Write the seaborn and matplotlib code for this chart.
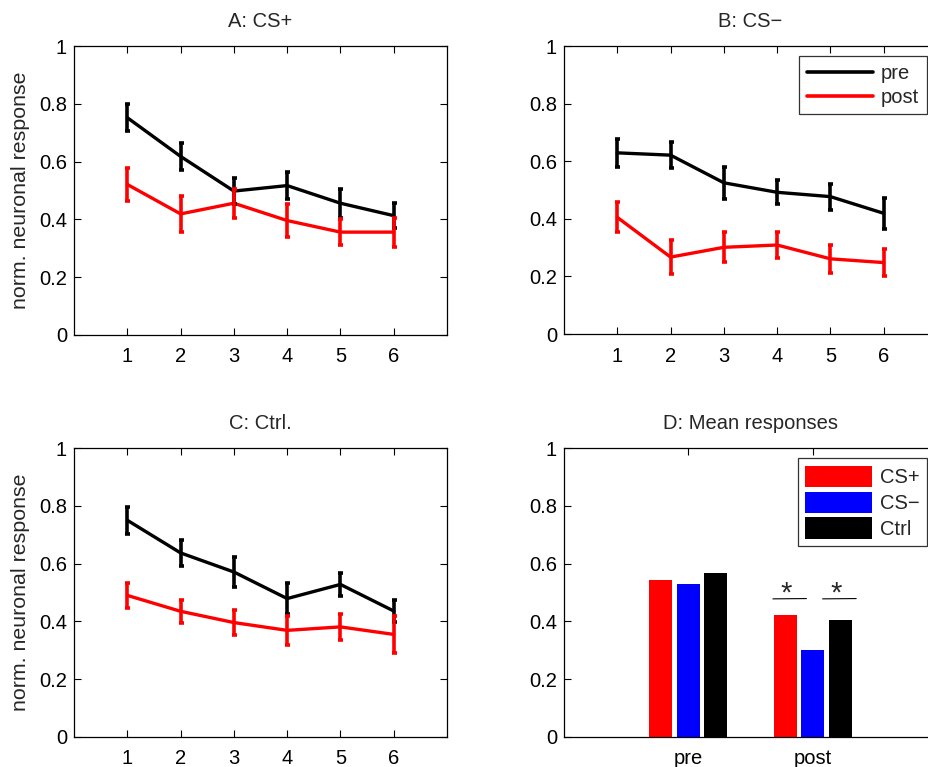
import numpy as np
import pandas as pd
import matplotlib
matplotlib.use("Agg")
import matplotlib.pyplot as plt
import seaborn as sns
from matplotlib.patches import Patch
from matplotlib.lines import Line2D

# ---------------- data ----------------
trials = [1, 2, 3, 4, 5, 6]

a_pre = [0.752, 0.618, 0.498, 0.517, 0.456, 0.413]
a_pre_err = [0.046, 0.046, 0.045, 0.046, 0.050, 0.043]
a_post = [0.521, 0.419, 0.456, 0.396, 0.356, 0.356]
a_post_err = [0.058, 0.063, 0.050, 0.058, 0.046, 0.050]

b_pre = [0.629, 0.621, 0.525, 0.492, 0.477, 0.419]
b_pre_err = [0.048, 0.044, 0.055, 0.042, 0.045, 0.053]
b_post = [0.405, 0.267, 0.301, 0.309, 0.261, 0.248]
b_post_err = [0.052, 0.058, 0.052, 0.046, 0.048, 0.047]

c_pre = [0.750, 0.637, 0.571, 0.479, 0.528, 0.436]
c_pre_err = [0.046, 0.046, 0.051, 0.053, 0.039, 0.039]
c_post = [0.490, 0.435, 0.396, 0.369, 0.381, 0.355]
c_post_err = [0.042, 0.039, 0.042, 0.049, 0.045, 0.063]

phases = ["pre", "post"]
stimuli = ["CS+", "CS\u2212", "Ctrl"]
mean_pre = [0.544, 0.531, 0.566]
mean_post = [0.421, 0.302, 0.405]

titles = ["A: CS+", "B: CS\u2212", "C: Ctrl.", "D: Mean responses"]
yticks = [0, 0.2, 0.4, 0.6, 0.8, 1]
ytick_labels = ["0", "0.2", "0.4", "0.6", "0.8", "1"]

# ---------------- style ----------------
sns.set_style("ticks")
plt.rcParams["font.family"] = ["Liberation Sans", "DejaVu Sans"]
plt.rcParams["axes.linewidth"] = 0.8
plt.rcParams["axes.edgecolor"] = "black"

W, H = 929, 767
fig = plt.figure(figsize=(W / 100, H / 100), dpi=100)


def box(left, top, right, bottom):
    return [left / W, 1 - bottom / H, (right - left) / W, (bottom - top) / H]


axA = fig.add_axes(box(74, 46, 447, 335))
axB = fig.add_axes(box(564, 46, 937, 334))
axC = fig.add_axes(box(74, 448, 447, 737))
axD = fig.add_axes(box(564, 448, 937, 737))

FS_TICK = 14.5
FS_TITLE = 14.5
FS_LABEL = 15.4


def style_axis(ax, title):
    ax.set_ylim(0, 1)
    ax.set_yticks(yticks)
    ax.set_yticklabels(ytick_labels)
    ax.tick_params(direction="in", top=True, right=True, length=5, width=0.8,
                   labelsize=FS_TICK, colors="black")
    ax.tick_params(axis="x", pad=9)
    ax.tick_params(axis="y", pad=5)
    for s in ax.spines.values():
        s.set_visible(True)
        s.set_color("black")
        s.set_linewidth(0.9)
    ax.set_title(title, fontsize=FS_TITLE, pad=14)
    ax.set_xlabel("")
    ax.set_ylabel("")


panels = [
    (axA, a_pre, a_pre_err, a_post, a_post_err, titles[0]),
    (axB, b_pre, b_pre_err, b_post, b_post_err, titles[1]),
    (axC, c_pre, c_pre_err, c_post, c_post_err, titles[2]),
]

for ax, pre, pre_e, post, post_e, title in panels:
    df = pd.DataFrame({
        "trial": trials + trials,
        "resp": pre + post,
        "phase": ["pre"] * len(trials) + ["post"] * len(trials),
    })
    sns.lineplot(data=df, x="trial", y="resp", hue="phase",
                 hue_order=["pre", "post"],
                 palette={"pre": "black", "post": "red"},
                 linewidth=2.4, errorbar=None, legend=False, ax=ax)
    ax.errorbar(trials, pre, yerr=pre_e, fmt="none", ecolor="black",
                elinewidth=2.6, capsize=1.8, capthick=2.6)
    ax.errorbar(trials, post, yerr=post_e, fmt="none", ecolor="red",
                elinewidth=2.6, capsize=1.8, capthick=2.6)
    ax.set_xlim(0, 7)
    ax.set_xticks(trials)
    style_axis(ax, title)

for ax in (axA, axC):
    ax.set_ylabel("norm. neuronal response", fontsize=FS_LABEL)
    ax.yaxis.set_label_coords(-0.117, 0.5)

leg = axB.legend(handles=[Line2D([], [], color="black", lw=2.6),
                          Line2D([], [], color="red", lw=2.6)],
                 labels=["pre", "post"], loc="upper right",
                 bbox_to_anchor=(927 / W, 1 - 56 / H),
                 bbox_transform=fig.transFigure,
                 fontsize=FS_TICK, frameon=True, fancybox=False,
                 edgecolor="black", handlelength=3.3, handletextpad=0.4,
                 borderpad=0.38, labelspacing=0.25, borderaxespad=0)
leg.get_frame().set_linewidth(0.9)

# ---------------- bar panel ----------------
dfb = pd.DataFrame({
    "phase": ["pre"] * 3 + ["post"] * 3,
    "stim": stimuli + stimuli,
    "value": mean_pre + mean_post,
})
bar_colors = {"CS+": "red", "CS\u2212": "blue", "Ctrl": "black"}
sns.barplot(data=dfb, x="phase", y="value", hue="stim", order=phases,
            hue_order=stimuli, palette=bar_colors, saturation=1,
            width=0.663, gap=0.17, errorbar=None, legend=False,
            edgecolor="none", ax=axD)
axD.set_xlim(-1, 2)
style_axis(axD, titles[3])

# significance markers between post bars
for x0, x1 in [(1 - 0.32, 1 - 0.05), (1 + 0.08, 1 + 0.35)]:
    axD.plot([x0, x1], [0.478, 0.479], color="black", lw=0.8)
    axD.text((x0 + x1) / 2 - 0.03, 0.497, "*", ha="center", va="center",
             fontsize=21)

legD = axD.legend(handles=[Patch(facecolor=bar_colors[s], edgecolor="none")
                           for s in stimuli],
                  labels=stimuli, loc="upper right",
                  bbox_to_anchor=(927 / W, 1 - 458 / H),
                  bbox_transform=fig.transFigure,
                  fontsize=FS_TICK, frameon=True, fancybox=False,
                  edgecolor="black", handlelength=3.3, handleheight=1.25,
                  handletextpad=0.4, borderpad=0.38, labelspacing=0.22,
                  borderaxespad=0)
legD.get_frame().set_linewidth(0.9)

fig.savefig("out.png", dpi=100)
